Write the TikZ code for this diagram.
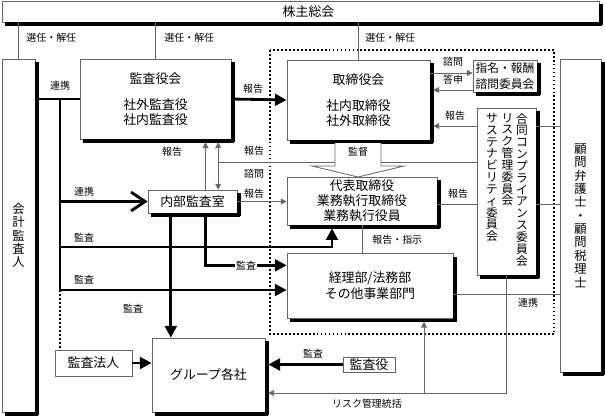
\documentclass[tikz,border=0pt]{standalone}
\usepackage{fontspec}
\setmainfont{Noto Sans CJK JP}
\usepackage{tikz}
\usetikzlibrary{arrows.meta,positioning,calc}

\begin{document}
\begin{tikzpicture}[x=0.03cm,y=-0.03cm,
  font=\fontsize{11}{12.8}\selectfont,
  box/.style={draw=black!60,line width=0.6pt,fill=white,align=center,inner sep=0pt},
  lbl/.style={font=\fontsize{8.5}{10}\selectfont,inner sep=1pt},
  vcol/.style={font=\fontsize{10}{10.1}\selectfont,anchor=north,align=center,inner sep=0pt},
  thk/.style={line width=2.4pt},
  thn/.style={draw=black!60,line width=0.7pt},
  big/.style={-{Triangle[length=10pt,width=10pt]}},
  sml/.style={-{Triangle[length=5pt,width=5pt]}},
  shd/.style={shorten >=2.5pt},
  dots/.style={line width=1.6pt,dash pattern=on 1.6pt off 1.8pt}]

\useasboundingbox (0,0) rectangle (605,418);

\draw[dots] (270,50) rectangle (554,334);

\node[box,minimum width=17.91cm,minimum height=0.63cm] (soukai) at (300.5,11.5) {\hspace*{0.48cm}株主総会};
\node[box,minimum width=0.99cm,minimum height=10.59cm,font=\fontsize{10.5}{11.3}\selectfont] (kaikei) at (18.5,235.5) {会\\計\\監\\査\\人};
\node[box,minimum width=4.53cm,minimum height=2.4cm] (kansa) at (155.5,99) {監査役会\\[9pt]社外監査役\\社内監査役};
\node[box,minimum width=4.29cm,minimum height=2.4cm] (torishimari) at (358.5,100) {取締役会\\[9pt]社内取締役\\社外取締役};
\node[box,minimum width=1.92cm,minimum height=0.96cm,font=\fontsize{10}{13.6}\selectfont] (shimei) at (505,76) {指名・報酬\\諮問委員会};
\node[box,minimum width=1.77cm,minimum height=5.01cm] (iinkai) at (506.5,191.5) {};
\node[vcol] (c1) at (522,113) {合\\同\\コ\\ン\\プ\\ラ\\イ\\ア\\ン\\ス\\委\\員\\会};
\node[vcol] (c2) at (507.5,113) {リ\\ス\\ク\\管\\理\\委\\員\\会};
\node[vcol] (c3) at (492,113) {サ\\ス\\テ\\ナ\\ビ\\リ\\テ\\ィ\\委\\員\\会};
\node[box,minimum width=4.5cm,minimum height=1.44cm] (daihyo) at (362,201) {代表取締役\\業務執行取締役\\業務執行役員};
\node[box,minimum width=4.98cm,minimum height=1.95cm,font=\fontsize{11}{13.6}\selectfont] (keiri) at (370,286) {経理部/法務部\\その他事業部門};
\node[box,minimum width=1.23cm,minimum height=9.39cm,font=\fontsize{10.5}{11.4}\selectfont] (komon) at (580.5,215.5) {顧\\問\\弁\\護\\士\\・\\顧\\問\\税\\理\\士};
\node[box,minimum width=2.67cm,minimum height=0.69cm] (naibu) at (192.5,201.5) {内部監査室};
\node[box,minimum width=3.39cm,minimum height=2.22cm] (group) at (208.5,375) {グループ各社};
\node[box,minimum width=2.31cm,minimum height=0.78cm] (houjin) at (93.5,363) {監査法人};
\node[box,minimum width=1.56cm,minimum height=0.45cm] (kansayaku) at (369,364.5) {監査役};

% shadows of the boxes, drawn over their lower and right edges
\foreach \xa/\ya/\xb/\yb in {2/1/599/22, 2/59/35/412, 80/59/231/139, 287/60/430/140,
    473/60/537/92, 477/108/536/275, 287/177/437/225, 287/253.5/453/318.5,
    560/59/601/372, 148/190/237/213, 152/338/265/412}{
  \fill[black] (\xa+3,\yb) rectangle (\xb+3,\yb+3.5);
  \fill[black] (\xb,\ya+3) rectangle (\xb+3.5,\yb+3);
}

\foreach \n in {kaikei,kansa,torishimari}
  \draw[thn] (\n.north |- soukai.south) -- (\n.north);
\node[lbl,anchor=west] (sen1) at (25,38) {選任・解任};
\node[lbl,anchor=west] (sen2) at (163,38) {選任・解任};
\node[lbl,anchor=west] (sen3) at (364,38) {選任・解任};

\coordinate (trunk) at (60,290);
\coordinate (bend) at (332,247);
\draw[thk] (kaikei.east |- kansa.west) -- (kansa.west);
\draw[thk] (trunk |- kansa.west) -- (trunk);
\draw[thk,-{Straight Barb[length=12pt,width=16pt]}] (trunk |- naibu.west) -- (naibu.west);
\draw[thk,big,shd] (trunk |- bend) -- (bend) -- (bend |- daihyo.south);
\draw[thk,big] (trunk) -- (trunk -| keiri.west);
\draw[dots] (trunk) -- (trunk |- houjin.north);
\draw[thk,big] (houjin.east) -- (houjin.east -| group.west);
\node[lbl] (ren1) at (60,86) {連携};
\node[lbl] (ren2) at (84,192) {連携};
\node[lbl] (ka1) at (84,238) {監査};
\node[lbl] (ka2) at (84,280) {監査};
\node[lbl] (ka3) at (133,309) {監査};

\coordinate (nA) at ([xshift=-0.65cm]naibu.south);
\coordinate (nB) at ([xshift=0.39cm]naibu.south);
\coordinate (nC) at ([xshift=0.77cm]naibu.north);
\coordinate (kC) at ([yshift=0.62cm]keiri.west);
\coordinate (rep) at (nC |- 0,162);
\draw[thk,big] (nA) -- (nA |- group.north);
\draw[thk,big] (nB) |- node[lbl,fill=white,pos=0.75] (ka4) {監査} (kC);
\draw[thn,sml,shd] (nB |- naibu.north) -- (nB |- kansa.south);
\draw[thn,{Triangle[length=5pt,width=5pt]}-{Triangle[length=5pt,width=5pt]},shd] (nC) -- (nC |- kansa.south);
\draw[thn] (rep) -- (rep -| iinkai.west);
\draw[thn,sml] (naibu.east) -- (naibu.east -| daihyo.west);
\node[lbl] (ho1) at (172,152) {報告};
\node[lbl] (ho2) at (254,151) {報告};
\node[lbl] (shi1) at (254,174) {諮問};
\node[lbl] (ho3) at (254,194) {報告};

\draw[thk,big] (kansa.east) -- (torishimari.west);
\node[lbl] (ho4) at (253,89) {報告};

\coordinate (q1) at ([yshift=0.09cm]shimei.west);
\coordinate (q2) at ([yshift=-0.42cm]shimei.west);
\draw[thn,sml] (q1 -| torishimari.east) -- (q1);
\draw[thn,sml,shd] (q2) -- (q2 -| torishimari.east);
\node[lbl] (shi2) at (453,62) {諮問};
\node[lbl] (tou) at (453,80) {答申};

\coordinate (r1) at ([yshift=1.965cm]iinkai.west);
\coordinate (r2) at ([yshift=-0.375cm]iinkai.west);
\coordinate (r3) at ([yshift=-0.255cm]keiri.east);
\draw[thn,sml,shd] (r1) -- (r1 -| torishimari.east);
\draw[thn] (r2) -- (r2 -| daihyo.east);
\draw[thn] (r1 -| iinkai.east) -- (r1 -| komon.west);
\draw[thn] (r2 -| iinkai.east) -- (r2 -| komon.west);
\draw[thn] (r3) -- (r3 -| komon.west);
\node[lbl] (ho5) at (455,116) {報告};
\node[lbl] (ho6) at (458,194) {報告};
\node[lbl] (ren3) at (528,303) {連携};

\draw[thn,fill=white] (335,143) -- (335,166) -- (312,166) -- (358,177) -- (404,166) -- (381,166) -- (381,143);
\node[lbl] (kantoku) at (358,152) {監督};

\draw[thn] (daihyo.south) -- (daihyo.south |- keiri.north);
\node[lbl,anchor=west] (hs) at (371,240) {報告・指示};

\coordinate (rk) at (424,393);
\draw[thn,sml,shd] (iinkai.south) |- (rk -| group.east);
\draw[thn,sml,shd] (rk) -- (rk |- keiri.south);
\node[lbl] (risk) at (367,404) {リスク管理統括};

\draw[thk,big,shd] (kansayaku.west) -- (kansayaku.west -| group.east);
\node[lbl] (ka5) at (313,354) {監査};
\end{tikzpicture}
\end{document}
